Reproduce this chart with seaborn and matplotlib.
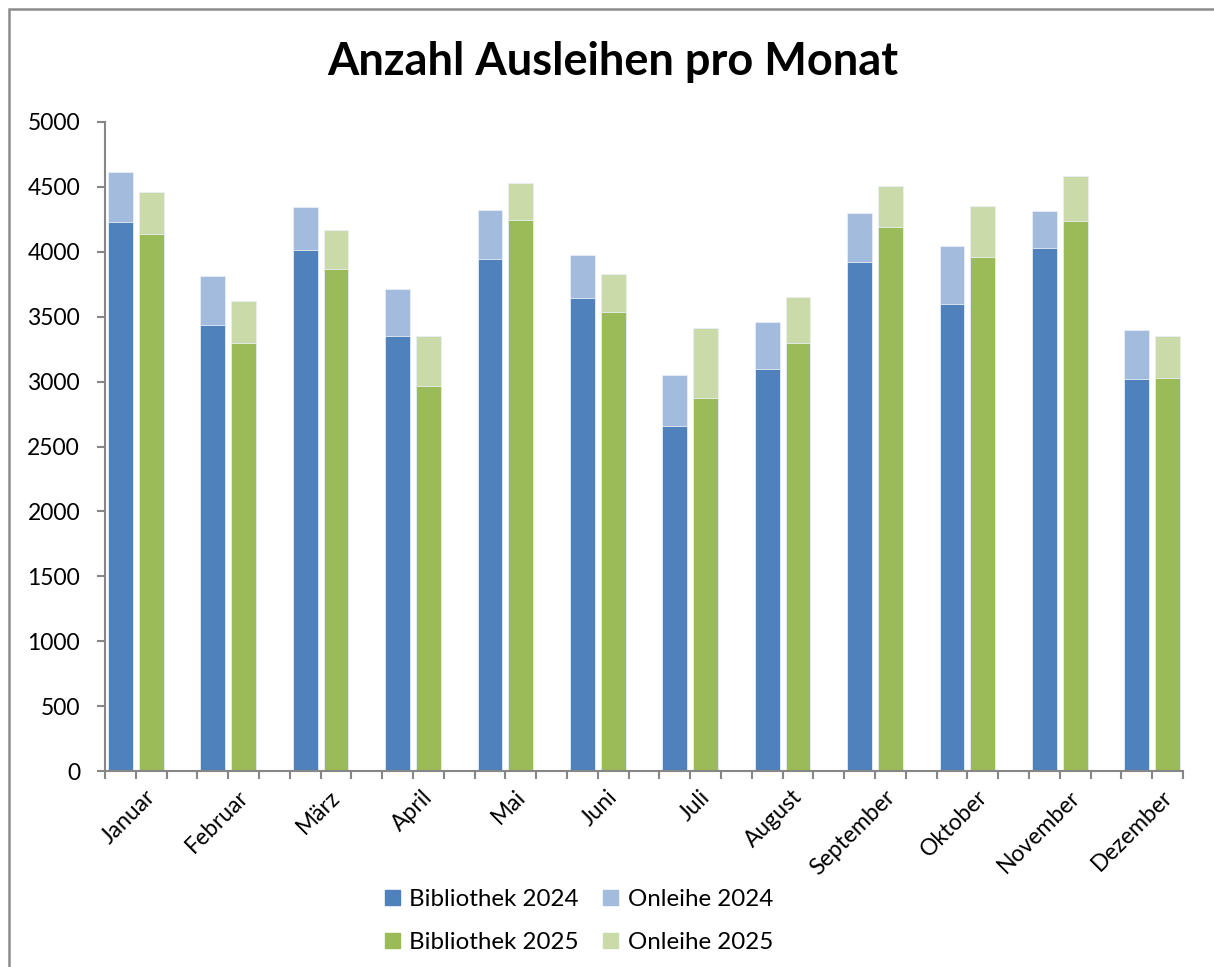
# -*- coding: utf-8 -*-
import numpy as np
import pandas as pd
import matplotlib
matplotlib.use('Agg')
import matplotlib.pyplot as plt
import matplotlib.patches as mpatches
import matplotlib.transforms as mtrans
import seaborn as sns

# %% data
monate = ['Januar', 'Februar', 'März', 'April', 'Mai', 'Juni', 'Juli',
          'August', 'September', 'Oktober', 'November', 'Dezember']
bibliothek_2024 = [4233, 3436, 4017, 3354, 3948, 3647, 2660, 3099, 3924, 3595, 4027, 3020]
onleihe_2024 = [378, 375, 326, 357, 372, 331, 393, 360, 378, 447, 288, 380]
bibliothek_2025 = [4140, 3297, 3870, 2968, 4243, 3539, 2873, 3300, 4194, 3958, 4241, 3025]
onleihe_2025 = [317, 321, 296, 386, 288, 293, 540, 349, 316, 398, 341, 324]
y_ticks = [0, 500, 1000, 1500, 2000, 2500, 3000, 3500, 4000, 4500, 5000]

farben = {'Bibliothek 2024': '#4f81bd', 'Onleihe 2024': '#a3bbdc',
          'Bibliothek 2025': '#9bbb59', 'Onleihe 2025': '#cadaa8'}

# %% build table: every month uses three slots (2024, 2025, gap)
rows = []
for i, m in enumerate(monate):
    rows.append({'slot': 3 * i, 'jahr': '2024', 'bib': bibliothek_2024[i],
                 'gesamt': bibliothek_2024[i] + onleihe_2024[i]})
    rows.append({'slot': 3 * i + 1, 'jahr': '2025', 'bib': bibliothek_2025[i],
                 'gesamt': bibliothek_2025[i] + onleihe_2025[i]})
df = pd.DataFrame(rows)
n_slots = 3 * len(monate) - 1
order = list(range(n_slots))

# %% plot
sns.set_style('white')
plt.rcParams['font.family'] = ['Lato', 'DejaVu Sans']
plt.rcParams['text.color'] = 'black'
plt.rcParams['xtick.labelcolor'] = 'black'
plt.rcParams['ytick.labelcolor'] = 'black'

fig = plt.figure(figsize=(12.14, 9.67), dpi=100)
ax = fig.add_axes([105 / 1214, 1 - 771 / 967, (1183 - 105) / 1214, (771 - 122) / 967])

sns.barplot(data=df, x='slot', y='gesamt', hue='jahr', order=order,
            palette={'2024': farben['Onleihe 2024'], '2025': farben['Onleihe 2025']},
            dodge=False, width=0.81, saturation=1, edgecolor='#e8eef6', linewidth=0.6,
            legend=False, ax=ax)
sns.barplot(data=df, x='slot', y='bib', hue='jahr', order=order,
            palette={'2024': farben['Bibliothek 2024'], '2025': farben['Bibliothek 2025']},
            dodge=False, width=0.81, saturation=1, edgecolor='#e8eef6', linewidth=0.6,
            legend=False, ax=ax)

ax.set_xlim(-0.5, n_slots - 0.5)
ax.set_ylim(0, 5000)
ax.set_xlabel('')
ax.set_ylabel('')

achsen_grau = '#868686'
for s in ['top', 'right']:
    ax.spines[s].set_visible(False)
for s in ['left', 'bottom']:
    ax.spines[s].set_color(achsen_grau)
    ax.spines[s].set_linewidth(1.5)

ax.set_yticks(y_ticks)
ax.set_yticklabels([str(v) for v in y_ticks], fontsize=16.5)
ax.tick_params(axis='y', direction='out', length=6, width=1.5, color=achsen_grau,
               pad=12, left=True)

# month labels sit on the tick between the two bars; all slot borders get a tick
ax.set_xticks(np.arange(len(monate)) * 3 + 0.5)
ax.set_xticklabels(monate, fontsize=16.5, rotation=45, ha='right', va='top',
                   rotation_mode='anchor')
ax.set_xticks(np.arange(-0.5, n_slots), minor=True)
ax.tick_params(axis='x', which='both', direction='out', length=6, width=1.5,
               color=achsen_grau, bottom=True)
ax.tick_params(axis='x', which='major', pad=5)
offset = mtrans.ScaledTranslation(9 / 100, 0, fig.dpi_scale_trans)
for lab in ax.get_xticklabels():
    lab.set_transform(lab.get_transform() + offset)

fig.suptitle('Anzahl Ausleihen pro Monat', fontsize=32.5, fontweight='bold',
             x=613 / 1214, y=1 - 62 / 967, va='center')

handles = [mpatches.Patch(color=farben[k]) for k in
           ['Bibliothek 2024', 'Bibliothek 2025', 'Onleihe 2024', 'Onleihe 2025']]
labels = ['Bibliothek 2024', 'Bibliothek 2025', 'Onleihe 2024', 'Onleihe 2025']
fig.legend(handles, labels, ncol=2, loc='center', bbox_to_anchor=(579 / 1214, 1 - 921 / 967),
           frameon=False, fontsize=17.4, handlelength=0.62, handleheight=0.62,
           handletextpad=0.4, columnspacing=1.0, labelspacing=0.92)

# outer chart frame
fig.patches.append(mpatches.Rectangle((9 / 1214, -0.1), 1.2, 1.1 - 9 / 967,
                                      transform=fig.transFigure, fill=False,
                                      edgecolor='#8c8c8c', linewidth=1.8))

plt.savefig('out.png', dpi=100)
